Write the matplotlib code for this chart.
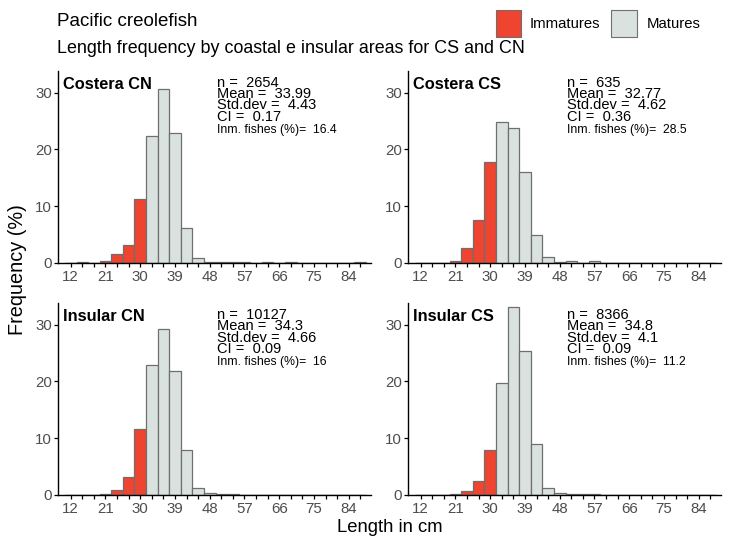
import matplotlib
matplotlib.use("Agg")
import matplotlib.pyplot as plt
from matplotlib.patches import Rectangle
import numpy as np

plt.rcParams['font.family'] = ['Liberation Sans', 'DejaVu Sans']

# ---------------- data ----------------
length_bins = [12, 15, 18, 21, 24, 27, 30, 33, 36, 39, 42, 45, 48, 51, 54, 57,
               60, 63, 66, 69, 72, 75, 78, 81, 84, 87]
x_tick_values = [12, 21, 30, 39, 48, 57, 66, 75, 84]
y_tick_values = [0, 10, 20, 30]

panel_titles = ["Costera CN", "Costera CS", "Insular CN", "Insular CS"]

costera_cn_imm = [0, 0.1, 0.05, 0.4, 1.6, 3.1, 11.2, 0, 0, 0, 0, 0, 0, 0, 0, 0,
                  0, 0, 0, 0, 0, 0, 0, 0, 0, 0]
costera_cn_mat = [0, 0, 0, 0, 0, 0, 0, 22.4, 30.6, 22.8, 6.2, 0.8, 0.2, 0.2, 0.1, 0.1,
                  0.05, 0.1, 0.05, 0.1, 0, 0, 0, 0, 0, 0.1]

costera_cs_imm = [0, 0, 0, 0.4, 2.7, 7.6, 17.8, 0, 0, 0, 0, 0, 0, 0, 0, 0,
                  0, 0, 0, 0, 0, 0, 0, 0, 0, 0]
costera_cs_mat = [0, 0, 0, 0, 0, 0, 0, 24.8, 23.8, 16.0, 5.0, 1.1, 0.2, 0.3, 0, 0.3,
                  0, 0, 0, 0, 0, 0, 0, 0, 0, 0]

insular_cn_imm = [0, 0, 0.05, 0.2, 0.9, 3.2, 11.7, 0, 0, 0, 0, 0, 0, 0, 0, 0,
                  0, 0, 0, 0, 0, 0, 0, 0, 0, 0]
insular_cn_mat = [0, 0, 0, 0, 0, 0, 0, 22.8, 29.2, 21.9, 7.9, 1.2, 0.3, 0.2, 0.1, 0.05,
                  0.05, 0.05, 0.05, 0.03, 0.03, 0.03, 0.03, 0.03, 0, 0]

insular_cs_imm = [0, 0.05, 0, 0.2, 0.7, 2.4, 7.9, 0, 0, 0, 0, 0, 0, 0, 0, 0,
                  0, 0, 0, 0, 0, 0, 0, 0, 0, 0]
insular_cs_mat = [0, 0, 0, 0, 0, 0, 0, 19.7, 33.1, 25.4, 9.0, 1.3, 0.3, 0.15, 0.2, 0.1,
                  0.05, 0.05, 0.05, 0.05, 0.03, 0.03, 0.05, 0, 0, 0]

stats_n = ["2654", "635", "10127", "8366"]
stats_mean = ["33.99", "32.77", "34.3", "34.8"]
stats_sd = ["4.43", "4.62", "4.66", "4.1"]
stats_ci = ["0.17", "0.36", "0.09", "0.09"]
stats_imm = ["16.4", "28.5", "16", "11.2"]

imm_series = [costera_cn_imm, costera_cs_imm, insular_cn_imm, insular_cs_imm]
mat_series = [costera_cn_mat, costera_cs_mat, insular_cn_mat, insular_cs_mat]

# ---------------- style ----------------
W, H = 731, 540
RED = "#EF4430"
GREY = "#DAE2DF"
EDGE = "#6f6f6f"
TICKCOL = "#4d4d4d"

fig = plt.figure(figsize=(W / 100, H / 100), dpi=100)

def fx(px):
    return px / W

def fy(py):
    return 1 - py / H

# panel positions in pixels (left, top, right, bottom)
panels_px = [(58, 71, 370.7, 263), (408, 71, 720.7, 263),
             (58, 303, 370.7, 495), (408, 303, 720.7, 495)]

for i, (l, t, r, b) in enumerate(panels_px):
    ax = fig.add_axes([fx(l), fy(b), fx(r - l), (b - t) / H])
    ax.bar(length_bins, imm_series[i], width=3, color=RED, edgecolor=EDGE,
           linewidth=0.9, align='center', zorder=2)
    ax.bar(length_bins, mat_series[i], width=3, color=GREY, edgecolor=EDGE,
           linewidth=0.9, align='center', zorder=2)
    ax.set_xlim(8.7, 89.7)
    ax.set_ylim(0, 33.8)
    ax.set_xticks(length_bins)
    ax.set_xticklabels([str(v) if v in x_tick_values else "" for v in length_bins])
    ax.set_yticks(y_tick_values)
    ax.set_yticklabels([str(v) for v in y_tick_values])
    for s in ["top", "right"]:
        ax.spines[s].set_visible(False)
    for s in ["left", "bottom"]:
        ax.spines[s].set_linewidth(1.0)
        ax.spines[s].set_color("black")
    ax.tick_params(axis='both', direction='out', length=3.2, width=0.9,
                   color='black', labelcolor=TICKCOL, labelsize=10.8)
    ax.tick_params(axis='x', pad=1.5)
    ax.tick_params(axis='y', pad=1.2)
    ax.set_facecolor('white')

    # panel title
    fig.text(fx(l + 4.7), fy(t + 18), panel_titles[i], fontsize=11.8,
             fontweight='bold', va='baseline', ha='left')
    # stats
    sx = l + 158.7
    base = t + 16
    fs = 10.5
    fig.text(fx(sx), fy(base), "n =  " + stats_n[i], fontsize=fs, va='baseline')
    fig.text(fx(sx), fy(base + 11), "Mean =  " + stats_mean[i], fontsize=fs, va='baseline')
    fig.text(fx(sx), fy(base + 22.5), "Std.dev =  " + stats_sd[i], fontsize=fs, va='baseline')
    fig.text(fx(sx), fy(base + 34), "CI =  " + stats_ci[i], fontsize=fs, va='baseline')
    fig.text(fx(sx), fy(base + 45.5), "Inm. fishes (%)=  " + stats_imm[i],
             fontsize=8.8, va='baseline')

# titles
fig.text(fx(57), fy(26), "Pacific creolefish", fontsize=13.5, va='baseline', ha='left')
fig.text(fx(57), fy(53), "Length frequency by coastal e insular areas for CS and CN",
         fontsize=12.9, va='baseline', ha='left')

# axis labels
fig.text(fx(390), fy(527), "Length in cm", fontsize=13.3, ha='center', va='center')
fig.text(fx(18), fy(270), "Frequency (%)", fontsize=14.3, ha='center', va='center',
         rotation=90)

# legend
legend_labels = ["Immatures", "Matures"]
legend_colors = [RED, GREY]
key_px = [(496, 10, 25, 27), (611, 10, 26, 27)]
text_px = [530, 647]
for lab, col, (kx, ky, kw, kh), tx in zip(legend_labels, legend_colors, key_px, text_px):
    fig.patches.append(Rectangle((fx(kx), fy(ky + kh)), kw / W, kh / H,
                                 transform=fig.transFigure, facecolor=col,
                                 edgecolor=EDGE, linewidth=0.8))
    fig.text(fx(tx), fy(ky + kh / 2), lab, fontsize=10.7, va='center', ha='left')

fig.savefig("out.png", dpi=100, facecolor='white')
